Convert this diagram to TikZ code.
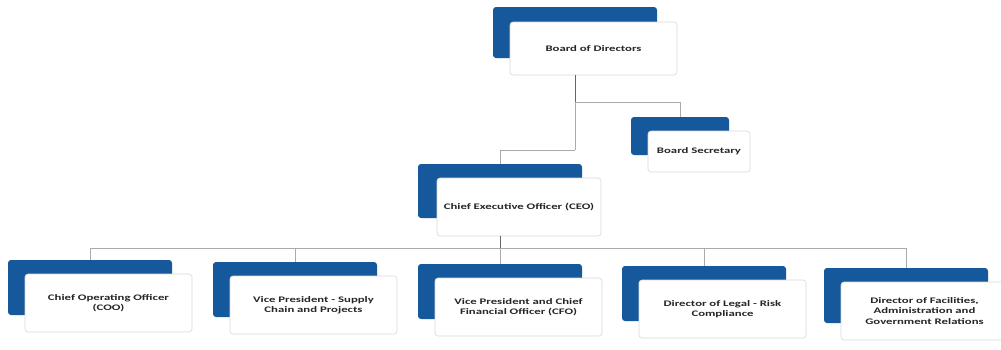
\documentclass[tikz,border=0pt]{standalone}
\usepackage{fontspec}
\setmainfont{Carlito}
\newfontfamily\boxfont{Carlito}[FakeStretch=1.5]
\definecolor{orgblue}{RGB}{22,88,156}
\definecolor{lineg}{RGB}{170,170,170}
\begin{document}
\begin{tikzpicture}[x=1pt,y=-1pt,
  bluebox/.style={fill=orgblue, rounded corners=3pt, inner sep=0pt, minimum width=164pt, minimum height=55pt},
  whitebox/.style={fill=white, draw=black!15, line width=0.6pt, rounded corners=3pt, inner sep=2pt,
    minimum width=167pt, minimum height=58pt, align=center, text width=160pt,
    font=\boxfont\bfseries\fontsize{8.5}{10.5}\selectfont, text=black!85},
  conn/.style={draw=lineg, line width=0.8pt},
  stem/.style={draw=black!60, line width=0.9pt}]
\useasboundingbox (0,0) rectangle (1001,349);
\fill[white] (0,0) rectangle (1001,349);

% Board of Directors
\node[bluebox, minimum height=51pt] (bod-b) at (575,32.5) {};
\node[whitebox, minimum height=53pt] (bod) at (593.5,48.5) {Board of Directors};

% Board Secretary
\node[bluebox, minimum width=98pt, minimum height=38pt] (sec-b) at (680,136) {};
\node[whitebox, minimum width=102pt, minimum height=41pt, text width=98pt] (sec) at (699,151.5) {Board Secretary};

% CEO
\node[bluebox, minimum height=54pt] (ceo-b) at (500,191) {};
\node[whitebox, minimum width=164pt] (ceo) at (519,207) {Chief Executive Officer (CEO)};

% bottom row
\node[bluebox] (coo-b) at (90,287.5) {};
\node[whitebox] (coo) at (108.5,303) {Chief Operating Officer\\(COO)};
\node[bluebox] (vps-b) at (295,289.5) {};
\node[whitebox] (vps) at (313.5,305) {Vice President - Supply\\Chain and Projects};
\node[bluebox] (cfo-b) at (500,291.5) {};
\node[whitebox] (cfo) at (518.5,307) {Vice President and Chief\\Financial Officer (CFO)};
\node[bluebox] (leg-b) at (704,293.5) {};
\node[whitebox] (leg) at (722.5,309) {Director of Legal - Risk\\Compliance};
\node[bluebox] (fac-b) at (906,295.5) {};
\node[whitebox] (fac) at (924.5,311) {Director of Facilities,\\Administration and\\Government Relations};

% connector junctions
\coordinate (k1) at (575,102);
\coordinate (k2) at (575,150);
\coordinate (k3) at (500,248);

% connectors
\draw[stem] (bod.south -| k1) -- (k1);
\draw[conn] (k1) -- (k2);
\draw[conn] (k1) -| (sec-b.north);
\draw[conn] (k2) -| (ceo-b.north);
\draw[stem] (ceo.south -| k3) -- (k3);
\draw[conn] (k3 -| coo-b.north) -- (k3 -| fac-b.north);
\foreach \n in {coo,vps,cfo,leg,fac}
  \draw[conn] (k3 -| \n-b.north) -- (\n-b.north);
\end{tikzpicture}
\end{document}
